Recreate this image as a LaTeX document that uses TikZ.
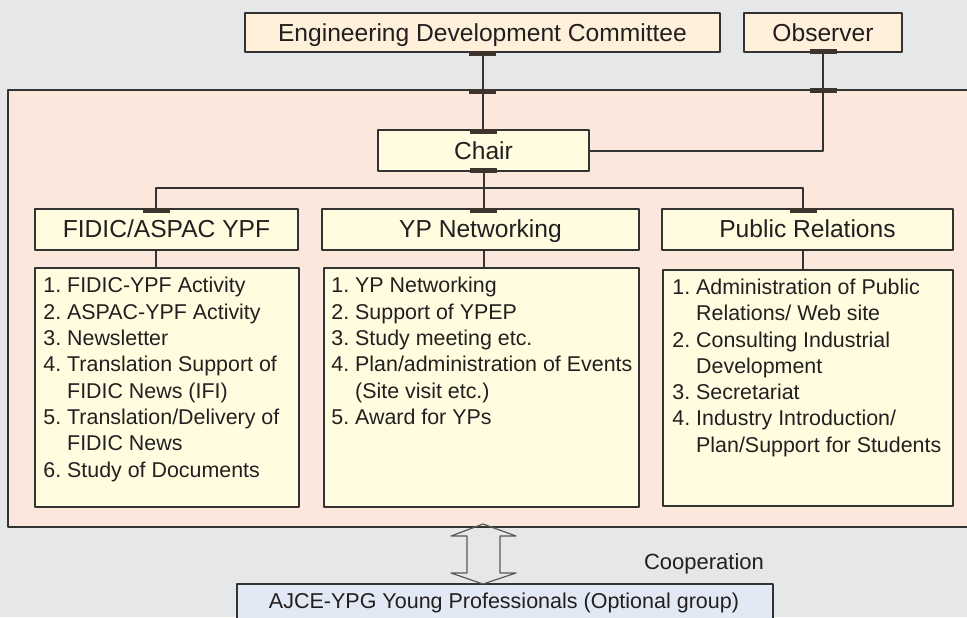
\documentclass[tikz,border=0pt]{standalone}
\usepackage{fontspec}
\setmainfont{Liberation Sans}
\usepackage{xcolor}
\usepackage{tikz}
\usetikzlibrary{calc,positioning}

\definecolor{bggray}{HTML}{E6E7E8}
\definecolor{panelpink}{HTML}{FCE7DD}
\definecolor{peach}{HTML}{FEF0DA}
\definecolor{cream}{HTML}{FFFCE0}
\definecolor{paleblue}{HTML}{E2E9F4}
\definecolor{edge}{HTML}{333333}
\definecolor{ink}{HTML}{231F20}
\definecolor{tickc}{HTML}{3E342D}

\newcommand{\pu}{0.5pt}
\newcommand{\ind}{\hphantom{1. }}
\frenchspacing

\begin{document}
\begin{tikzpicture}[line cap=round,line join=round,x=0.5pt,y=-0.5pt,
  topbox/.style={draw=edge,fill=peach,line width=1pt,text=ink,
    font=\fontsize{12.3}{14}\selectfont,text height=8.8pt,text depth=0pt,
    inner sep=0pt,minimum height=39.5*\pu},
  headbox/.style={topbox,fill=cream,minimum height=41*\pu},
  listbox/.style={draw=edge,fill=cream,line width=1pt,inner sep=0pt,anchor=north west},
  listtext/.style={font=\fontsize{10.7}{13.15}\selectfont,text=ink,align=left,
    anchor=north west,inner sep=0pt},
  link/.style={draw=edge,line width=1pt},
  tickbar/.style={fill=tickc}]
\clip (0,0) rectangle (967,617);
\fill[bggray] (0,0) rectangle (967,617);
% committee panel
\draw[draw=edge,fill=panelpink,line width=0.8pt] (8,90) rectangle (990,527);

\node[topbox,minimum width=475*\pu] (edc) at (482.5,32.3) {Engineering Development Committee};
\node[topbox,minimum width=158*\pu] (obs) at (823,32.3) {Observer};
\node[headbox,minimum width=211*\pu] (chair) at (483.5,150.5) {Chair};
\node[headbox,minimum width=263*\pu] (fidic) at (166.5,229) {FIDIC/ASPAC YPF};
\node[headbox,minimum width=317*\pu] (ypn) at (480.5,229) {YP Networking};
\node[headbox,minimum width=291*\pu] (pubrel) at (807.5,229) {Public Relations};

\node[listbox,minimum width=264*\pu,minimum height=239*\pu] (fidiclist) at (34,267) {};
\node[listbox,minimum width=315*\pu,minimum height=239*\pu] (ypnlist) at (323,267) {};
\node[listbox,minimum width=290*\pu,minimum height=236*\pu] (pubrellist) at (662,269) {};

\node[listtext] (fidictext) at ($(fidiclist.north west)+(9,10)$)
  {1. FIDIC-YPF Activity\\2. ASPAC-YPF Activity\\3. Newsletter\\
   4. Translation Support of\\\ind FIDIC News (IFI)\\5. Translation/Delivery of\\
   \ind FIDIC News\\6. Study of Documents};
\node[listtext] (ypntext) at ($(ypnlist.north west)+(8,10)$)
  {1. YP Networking\\2. Support of YPEP\\3. Study meeting etc.\\
   4. Plan/administration of Events\\\ind (Site visit etc.)\\5. Award for YPs};
\node[listtext] (pubreltext) at ($(pubrellist.north west)+(10,9.5)$)
  {1. Administration of Public\\\ind Relations/ Web site\\2. Consulting Industrial\\
   \ind Development\\3. Secretariat\\4. Industry Introduction/\\\ind Plan/Support for Students};

% junctions
\coordinate (jf) at (156,187.5);
\coordinate (jp) at (803,187.5);

\draw[link] (edc.south) -- (edc.south |- chair.north);
\draw[link] (obs.south) |- (chair.east);
\draw[link] (chair.south) -- (chair.south |- ypn.north);
\draw[link] (jf |- fidic.north) -- (jf) -- (jp) -- (jp |- pubrel.north);
\draw[link] (jf |- fidic.south) -- (jf |- fidiclist.north);
\draw[link] (chair.south |- ypn.south) -- (chair.south |- ypnlist.north);
\draw[link] (jp |- pubrel.south) -- (jp |- pubrellist.north);

\foreach \x/\y in {482.5/52,482.5/90,483.5/130,483.5/169,823/50,823/89,156/209,483.5/209,803/209}
  \fill[tickbar] (\x-13.5,\y-1) rectangle ++(27,4.5);

% young professionals group
\node[draw=edge,fill=paleblue,line width=1pt,anchor=north west,inner sep=0pt,
  minimum width=536*\pu,minimum height=60*\pu] (ajce) at (236,583) {};
\node[anchor=base,font=\fontsize{10.75}{13}\selectfont,text=ink] (ajcetext) at (504,608.5)
  {AJCE-YPG Young Professionals (Optional group)};
\draw[draw=black!65,line width=0.6pt] (483,524) -- (516,536) -- (500,536) -- (500,573)
  -- (516,573) -- (483,584) -- (451,573) -- (467,573) -- (467,536) -- (451,536) -- cycle;
\node[anchor=base east,font=\fontsize{11}{13}\selectfont,text=ink] (coop) at (771,569) {Cooperation};
\end{tikzpicture}
\end{document}
